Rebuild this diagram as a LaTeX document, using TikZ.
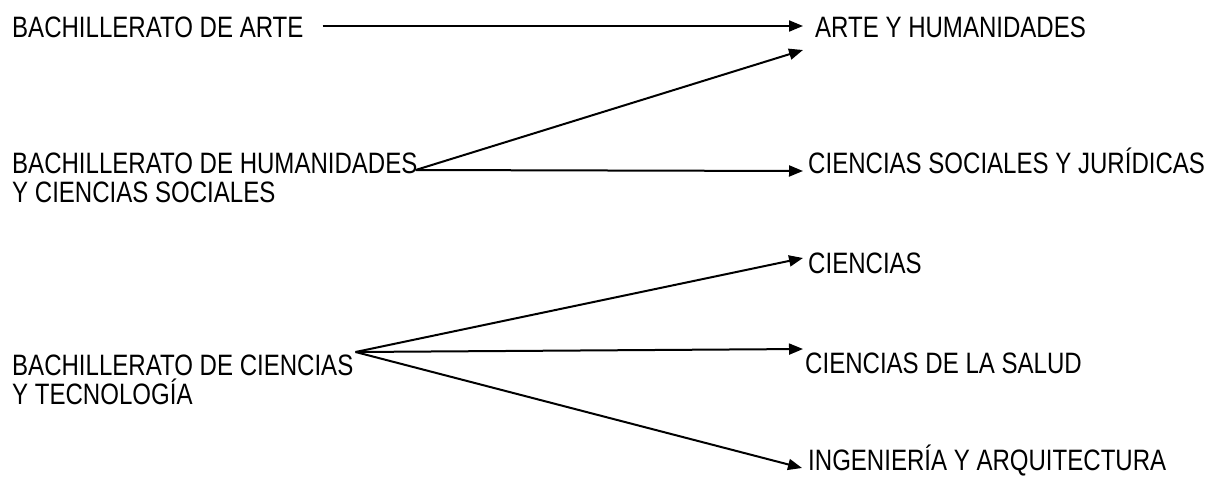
\documentclass[tikz,border=0pt]{standalone}
\usepackage{fontspec}
\setmainfont{Liberation Sans}[FakeStretch=0.815]
\usepackage{tikz}
\usetikzlibrary{arrows.meta,positioning}

\begin{document}
\begin{tikzpicture}[x=1pt, y=-1pt,
		every node/.style={inner sep=0pt, font=\fontsize{29.5pt}{29pt}\selectfont},
		flecha/.style={line width=2pt, -{Triangle[length=14pt,width=11pt]}}]
				\useasboundingbox (0, 0) rectangle (1207, 477);

				\node (bart) [anchor=base west] at (12, 37) {BACHILLERATO DE ARTE};
				\node (bhum) [anchor=north west, align=left] at (12, 153) {BACHILLERATO DE HUMANIDADES\\Y CIENCIAS SOCIALES};
				\node (bcien) [anchor=north west, align=left] at (12, 355) {BACHILLERATO DE CIENCIAS\\Y TECNOLOGÍA};

				\node (arte) [anchor=base west] at (815, 37) {ARTE Y HUMANIDADES};
				\node (soc) [anchor=base west] at (808, 173) {CIENCIAS SOCIALES Y JURÍDICAS};
				\node (cien) [anchor=base west] at (808, 273) {CIENCIAS};
				\node (salud) [anchor=base west] at (805, 373) {CIENCIAS DE LA SALUD};
				\node (ing) [anchor=base west] at (808, 470) {INGENIERÍA Y ARQUITECTURA};

				\draw [flecha] ([xshift=19pt, yshift=11pt]bart.base east) to ([xshift=-12pt, yshift=11pt]arte.base west);
				\draw [flecha] ([xshift=-2pt, yshift=-17pt]bhum.north east) to ([xshift=-12pt, yshift=-13pt]arte.base west);
				\draw [flecha] ([xshift=-2pt, yshift=-17pt]bhum.north east) to ([xshift=-5pt, yshift=2pt]soc.base west);
				\draw [flecha] ([xshift=2pt, yshift=3pt]bcien.north east) to ([xshift=-5pt, yshift=15pt]cien.base west);
				\draw [flecha] ([xshift=2pt, yshift=3pt]bcien.north east) to ([xshift=-2pt, yshift=24pt]salud.base west);
				\draw [flecha] ([xshift=2pt, yshift=3pt]bcien.north east) to ([xshift=-6pt, yshift=2pt]ing.base west);
\end{tikzpicture}
\end{document}
